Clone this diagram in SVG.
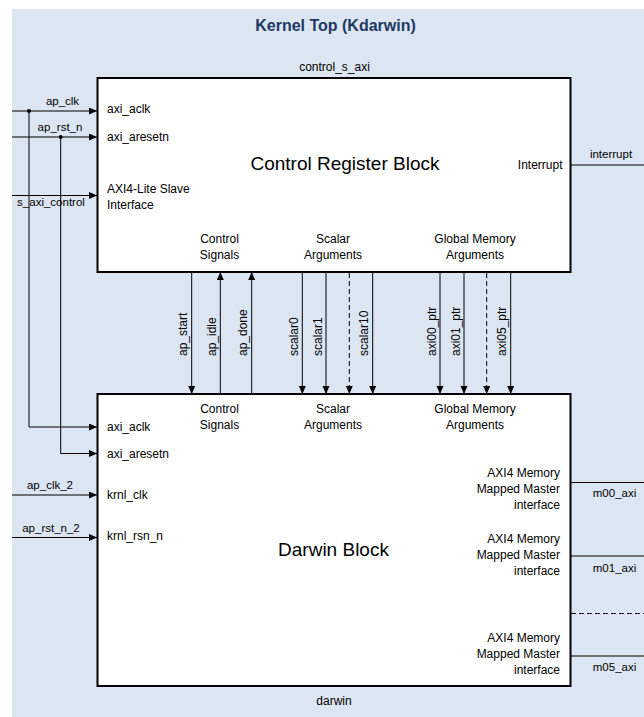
<svg xmlns="http://www.w3.org/2000/svg" width="644" height="717" viewBox="0 0 644 717">
<style>
text{font-family:"Liberation Sans",Arial,sans-serif;fill:#000}
.title{font-size:16px;font-weight:bold;fill:#1F3864}
.big{font-size:19px}
.lbl{font-size:12px}
.sig{font-size:11.5px}
.vs{font-size:12px}
.blk{fill:#fff;stroke:#000;stroke-width:2}
.ln{fill:none;stroke:#000;stroke-width:1}
.ar{marker-end:url(#arr)}
.dash{stroke-dasharray:5,3}
.c{text-anchor:middle}
.r{text-anchor:end}
</style>
<defs>
<marker id="arr" markerUnits="userSpaceOnUse" markerWidth="9" markerHeight="8" refX="8" refY="3.5" orient="auto">
<path d="M0,0 L8,3.5 L0,7 Z" fill="#000"/>
</marker>
</defs>
<rect x="12" y="9" width="632" height="708" fill="#DCE6F2"/>
<text class="title c" x="335.5" y="31">Kernel Top (Kdarwin)</text>

<g id="control_s_axi">
<text class="lbl c" x="334.5" y="71">control_s_axi</text>
<rect class="blk" x="97.5" y="78" width="473" height="194"/>
<text class="big c" x="345" y="170">Control Register Block</text>
<text class="lbl" x="107" y="113">axi_aclk</text>
<text class="lbl" x="107" y="141">axi_aresetn</text>
<text class="lbl" x="107" y="193">AXI4-Lite Slave</text>
<text class="lbl" x="107" y="209">Interface</text>
<text class="lbl c" x="219.5" y="243">Control</text>
<text class="lbl c" x="219.5" y="259">Signals</text>
<text class="lbl c" x="333" y="243">Scalar</text>
<text class="lbl c" x="333" y="259">Arguments</text>
<text class="lbl c" x="475" y="243">Global Memory</text>
<text class="lbl c" x="475" y="259">Arguments</text>
<text class="lbl r" x="562.5" y="169">Interrupt</text>
</g>

<g id="darwin">
<rect class="blk" x="97.5" y="394" width="473" height="292"/>
<text class="big c" x="333.5" y="556">Darwin Block</text>
<text class="lbl c" x="334" y="705">darwin</text>
<text class="lbl" x="107" y="431">axi_aclk</text>
<text class="lbl" x="107" y="458">axi_aresetn</text>
<text class="lbl" x="107" y="499">krnl_clk</text>
<text class="lbl" x="107" y="540">krnl_rsn_n</text>
<text class="lbl c" x="219.5" y="413">Control</text>
<text class="lbl c" x="219.5" y="429">Signals</text>
<text class="lbl c" x="333" y="413">Scalar</text>
<text class="lbl c" x="333" y="429">Arguments</text>
<text class="lbl c" x="475" y="413">Global Memory</text>
<text class="lbl c" x="475" y="429">Arguments</text>
<text class="lbl r" x="560" y="477">AXI4 Memory</text>
<text class="lbl r" x="560" y="493">Mapped Master</text>
<text class="lbl r" x="560" y="509">interface</text>
<text class="lbl r" x="560" y="543">AXI4 Memory</text>
<text class="lbl r" x="560" y="559">Mapped Master</text>
<text class="lbl r" x="560" y="575">interface</text>
<text class="lbl r" x="560" y="642">AXI4 Memory</text>
<text class="lbl r" x="560" y="658">Mapped Master</text>
<text class="lbl r" x="560" y="674">interface</text>
</g>

<g id="connectors">
<!-- left inputs to control block -->
<line class="ln ar" x1="12" y1="111" x2="97" y2="111"/>
<line class="ln ar" x1="12" y1="137" x2="97" y2="137"/>
<line class="ln ar" x1="12" y1="195.5" x2="97" y2="195.5"/>
<circle cx="29" cy="111" r="2" fill="#000"/>
<circle cx="60.7" cy="137" r="2" fill="#000"/>
<polyline class="ln ar" points="29,111 29,427 97,427"/>
<polyline class="ln ar" points="60.7,137 60.7,453.5 97,453.5"/>
<line class="ln ar" x1="12" y1="495" x2="97" y2="495"/>
<line class="ln ar" x1="12" y1="537.5" x2="97" y2="537.5"/>
<text class="sig c" x="62.5" y="105">ap_clk</text>
<text class="sig c" x="60" y="131">ap_rst_n</text>
<text class="sig c" x="51" y="206">s_axi_control</text>
<text class="sig c" x="50" y="489">ap_clk_2</text>
<text class="sig c" x="51" y="531.5">ap_rst_n_2</text>

<!-- interrupt and outputs -->
<line class="ln" x1="571" y1="165" x2="644" y2="165"/>
<text class="sig c" x="611" y="158">interrupt</text>
<line class="ln" x1="571" y1="482.5" x2="644" y2="482.5"/>
<line class="ln" x1="571" y1="556" x2="644" y2="556"/>
<line class="ln dash" x1="571" y1="613.5" x2="644" y2="613.5"/>
<line class="ln" x1="571" y1="656" x2="644" y2="656"/>
<text class="sig c" x="614.5" y="497">m00_axi</text>
<text class="sig c" x="614.5" y="571.5">m01_axi</text>
<text class="sig c" x="614.5" y="670.5">m05_axi</text>

<!-- between blocks -->
<line class="ln ar" x1="191.7" y1="273" x2="191.7" y2="394"/>
<line class="ln ar" x1="220.3" y1="393" x2="220.3" y2="272"/>
<line class="ln ar" x1="251.7" y1="393" x2="251.7" y2="272"/>
<line class="ln ar" x1="302.3" y1="273" x2="302.3" y2="394"/>
<line class="ln ar" x1="326" y1="273" x2="326" y2="394"/>
<line class="ln ar dash" x1="349.3" y1="273" x2="349.3" y2="394"/>
<line class="ln ar" x1="372.7" y1="273" x2="372.7" y2="394"/>
<line class="ln ar" x1="440" y1="273" x2="440" y2="394"/>
<line class="ln ar" x1="464" y1="273" x2="464" y2="394"/>
<line class="ln ar dash" x1="486.7" y1="273" x2="486.7" y2="394"/>
<line class="ln ar" x1="510.7" y1="273" x2="510.7" y2="394"/>
<text class="vs" transform="translate(187,356) rotate(-90)">ap_start</text>
<text class="vs" transform="translate(215.8,356) rotate(-90)">ap_idle</text>
<text class="vs" transform="translate(247.2,356) rotate(-90)">ap_done</text>
<text class="vs" transform="translate(297.8,356) rotate(-90)">scalar0</text>
<text class="vs" transform="translate(321.5,356) rotate(-90)">scalar1</text>
<text class="vs" transform="translate(368.2,356) rotate(-90)">scalar10</text>
<text class="vs" transform="translate(435.5,356) rotate(-90)">axi00_ptr</text>
<text class="vs" transform="translate(459.5,356) rotate(-90)">axi01_ptr</text>
<text class="vs" transform="translate(506.2,356) rotate(-90)">axi05_ptr</text>
</g>
</svg>
